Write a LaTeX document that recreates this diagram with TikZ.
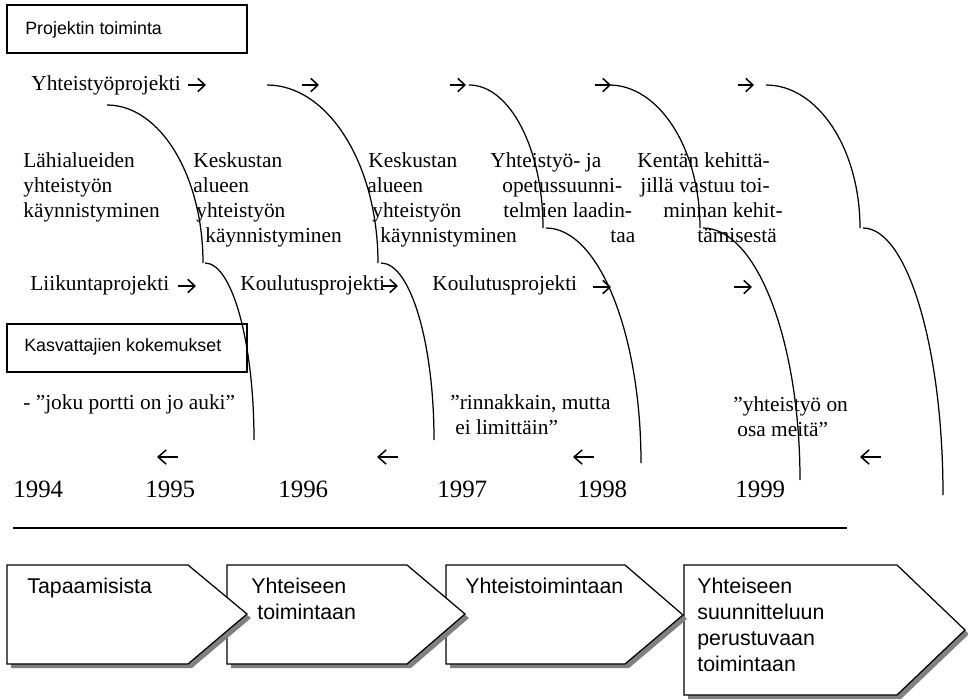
\documentclass[tikz,border=0pt]{standalone}
\usepackage{fontspec}
\usetikzlibrary{arrows.meta}
\setmainfont{Liberation Serif}
\newfontfamily\arialfont{Liberation Sans}

% quarter-elliptic arc: horizontal at (#1,#2), vertical when it reaches (#3,#4)
\newcommand\quarterarc[4]{%
  \pgfmathsetmacro\qcx{#1+0.5523*(#3-#1)}%
  \pgfmathsetmacro\qcy{#4-0.5523*(#4-#2)}%
  \draw[arcline] (#1,#2) .. controls (\qcx,#2) and (#3,\qcy) .. (#3,#4);}

% pentagon arrow with a flat grey shadow: left, top, shoulder x, tip x, tip y, bottom
\newcommand\chevronbox[6]{%
  \fill[shadowfill] (#1+4,#2+4) -- (#3+4,#2+4) -- (#4+4,#5+4) -- (#3+4,#6+4) -- (#1+4,#6+4) -- cycle;
  \draw[boxline,fill=white] (#1,#2) -- (#3,#2) -- (#4,#5) -- (#3,#6) -- (#1,#6) -- cycle;}

% small inline arrow: name, left x, right x, y, direction style
\newcommand\smallarrow[5]{%
  \coordinate (#1-l) at (#2,#4);
  \coordinate (#1-r) at (#3,#4);
  \draw[#5] (#1-l) -- (#1-r);}

\begin{document}
\begin{tikzpicture}[x=0.5618pt,y=-0.5618pt,
  serif/.style={inner sep=0pt,anchor=base west,font=\fontsize{12}{14}\selectfont},
  yeartext/.style={inner sep=0pt,anchor=base west,font=\fontsize{14}{16}\selectfont},
  boxtext/.style={inner sep=0pt,anchor=base west,font=\arialfont\fontsize{10}{12}\selectfont},
  steptext/.style={inner sep=0pt,anchor=base west,font=\arialfont\fontsize{12}{14}\selectfont},
  fwd/.style={line width=0.85pt,-{Straight Barb[length=4pt,width=7.5pt]}},
  bwd/.style={line width=0.85pt,{Straight Barb[length=4.5pt,width=8pt]}-},
  arcline/.style={line width=0.7pt},
  boxline/.style={line width=0.7pt},
  shadowfill/.style={fill=black!50}]
\useasboundingbox (0,0) rectangle (968,700);

% section boxes
\draw[boxline] (7,5) rectangle (247,53);
\node[boxtext] (projbox) at (25,34) {Projektin toiminta};
\draw[boxline] (7,324) rectangle (247,372);
\node[boxtext] (kokbox) at (24,351) {Kasvattajien kokemukset};

% project row
\node[serif] (p1) at (31,90) {Yhteistyöprojekti};
\smallarrow{pa1}{188}{206}{85}{fwd}
\smallarrow{pa2}{302}{319}{85}{fwd}
\smallarrow{pa3}{450}{466}{85}{fwd}
\smallarrow{pa4}{595}{611}{85}{fwd}
\smallarrow{pa5}{738}{754}{85}{fwd}

% phase descriptions
\node[serif] (a1) at (23,167) {Lähialueiden};
\node[serif] (a2) at (23,192) {yhteistyön};
\node[serif] (a3) at (23,217) {käynnistyminen};

\node[serif] (b1) at (193,167) {Keskustan};
\node[serif] (b2) at (193,192) {alueen};
\node[serif] (b3) at (196,217) {yhteistyön};
\node[serif] (b4) at (205,242) {käynnistyminen};

\node[serif] (c1) at (368,167) {Keskustan};
\node[serif] (c2) at (367,192) {alueen};
\node[serif] (c3) at (372,217) {yhteistyön};
\node[serif] (c4) at (380,242) {käynnistyminen};

\node[serif] (d1) at (490,167) {Yhteistyö- ja};
\node[serif] (d2) at (502,192) {opetussuunni-};
\node[serif] (d3) at (503,217) {telmien laadin-};
\node[serif] (d4) at (610,242) {taa};

\node[serif] (e1) at (637,167) {Kentän kehittä-};
\node[serif] (e2) at (640,192) {jillä vastuu toi-};
\node[serif] (e3) at (663,217) {minnan kehit-};
\node[serif] (e4) at (697,242) {tämisestä};

% second project row
\node[serif] (q1) at (30,290) {Liikuntaprojekti};
\smallarrow{qa1}{178}{196}{286}{fwd}
\node[serif] (q2) at (240,290) {Koulutusprojekti};
\smallarrow{qa2}{383}{398}{286}{fwd}
\node[serif] (q3) at (432,290) {Koulutusprojekti};
\smallarrow{qa3}{593}{611}{287}{fwd}
\smallarrow{qa4}{734}{752}{287}{fwd}

% experiences
\node[serif] (k1) at (23,409) {- ”joku portti on jo auki”};
\node[serif] (k2) at (450,409) {”rinnakkain, mutta};
\node[serif] (k3) at (455,434) {ei limittäin”};
\node[serif] (k4) at (733,411) {”yhteistyö on};
\node[serif] (k5) at (737,436) {osa meitä”};

% backward arrows
\smallarrow{la1}{157}{178}{457}{bwd}
\smallarrow{la2}{377}{398}{457}{bwd}
\smallarrow{la3}{573}{594}{457}{bwd}
\smallarrow{la4}{860}{881}{457}{bwd}

% years
\node[yeartext] (y94) at (13,497) {1994};
\node[yeartext] (y95) at (145,497) {1995};
\node[yeartext] (y96) at (278,497) {1996};
\node[yeartext] (y97) at (437,497) {1997};
\node[yeartext] (y98) at (577,497) {1998};
\node[yeartext] (y99) at (735,497) {1999};

% time axis
\coordinate (axisL) at (13,528);
\coordinate (axisR) at (847,528);
\draw[line width=0.75pt] (axisL) -- (axisR);

% connecting arcs
\quarterarc{107}{105}{203}{263}
\quarterarc{267}{85}{378}{263}
\quarterarc{469}{85}{543}{228}
\quarterarc{609}{85}{700}{228}
\quarterarc{766}{85}{860}{228}
\quarterarc{205}{263}{254}{440}
\quarterarc{381}{263}{434}{440}
\quarterarc{546}{228}{641}{463}
\quarterarc{703}{228}{800}{480}
\quarterarc{863}{228}{943}{495}

% development stages
\chevronbox{684}{565}{897}{965}{630}{695}
\chevronbox{446}{565}{625}{683}{615}{664}
\chevronbox{227}{565}{407}{465}{614}{664}
\chevronbox{7}{565}{188}{247}{614}{664}

\node[steptext] (s1) at (27,593) {Tapaamisista};
\node[steptext] (s2a) at (251,593) {Yhteiseen};
\node[steptext] (s2b) at (257,619) {toimintaan};
\node[steptext] (s3) at (465,593) {Yhteistoimintaan};
\node[steptext] (s4a) at (697,593) {Yhteiseen};
\node[steptext] (s4b) at (697,619) {suunnitteluun};
\node[steptext] (s4c) at (697,645) {perustuvaan};
\node[steptext] (s4d) at (697,671) {toimintaan};
\end{tikzpicture}
\end{document}
